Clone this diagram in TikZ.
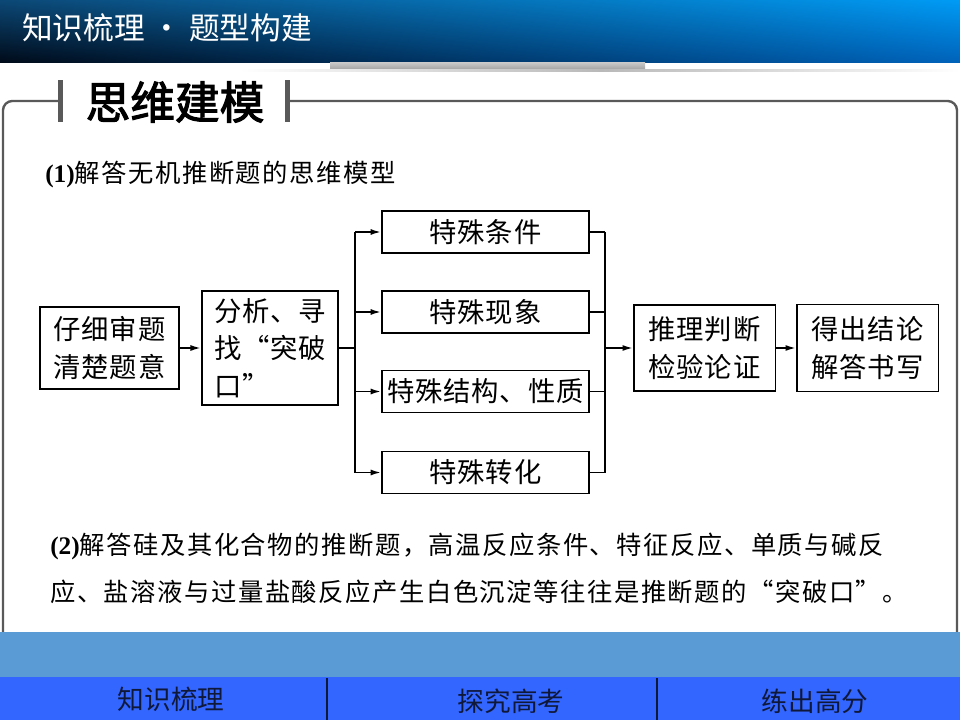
\documentclass[tikz,border=0pt]{standalone}
\usepackage{fontspec}
\setmainfont{Liberation Serif}
\newfontfamily\cjk{Noto Sans CJK SC}
\newfontfamily\cjkbox[LetterSpace=3]{Noto Sans CJK SC}
\newfontfamily\cjktext[LetterSpace=6]{Noto Sans CJK SC}
\newfontfamily\cjkhead[FakeBold=2.5]{Noto Sans CJK SC}
\definecolor{BandBlue}{RGB}{91,155,213}
\definecolor{TabBlue}{RGB}{51,102,255}
\definecolor{TabInk}{RGB}{16,24,58}
\definecolor{FrameGray}{RGB}{89,89,89}
\definecolor{BannerUL}{RGB}{12,72,118}
\definecolor{BannerUR}{RGB}{0,155,245}
\definecolor{BannerLL}{RGB}{0,10,24}
\definecolor{BannerLR}{RGB}{0,98,185}
\usetikzlibrary{positioning,arrows.meta,calc,shadings}

\begin{document}
\begin{tikzpicture}[x=0.75pt, y=-0.75pt,
      every node/.style={inner sep=0pt, align=center},
      stepbox/.style={draw=black, line width=1.3pt, fill=white,
                      font=\fontsize{20.5}{28}\cjkbox},
      featbox/.style={stepbox, minimum width=155pt, minimum height=31.5pt},
      link/.style={line width=1.4pt},
      arr/.style={link, -{Latex[length=8pt,width=4.5pt]}},
      tab/.style={font=\fontsize{20}{22}\cjk, text=TabInk}
  ]
    \useasboundingbox (0,0) rectangle (960,720);
    % banner
    \shade[upper left=BannerUL, upper right=BannerUR, lower left=BannerLL, lower right=BannerLR]
      (0,0) rectangle (960,63);
    \node[anchor=west, text=white, font=\fontsize{23}{25}\cjk] (banner) at (22,28) {知识梳理 · 题型构建};
    \shade[top color=gray!45, bottom color=gray!75] (330,63) rectangle (645,70);
    \shade[left color=white, right color=white, middle color=gray!55] (240,70) rectangle (960,71.5);

    % frame and heading
    \draw[FrameGray, line width=1.8pt, rounded corners=7pt] (58,101) -- (3,101) -- (3,640);
    \draw[FrameGray, line width=1.8pt, rounded corners=7pt] (290,101) -- (957,101) -- (957,640);
    \fill[FrameGray] (58,80) rectangle (63,122);
    \fill[FrameGray] (285,80) rectangle (290,122);
    \node[font=\fontsize{33.5}{36}\cjkhead] (head) at (175,102) {思维建模};

    \node[anchor=west, font=\fontsize{19}{22}\cjktext] (q1) at (45,175)
      {{\bfseries\fontspec{Liberation Serif}(1)}解答无机推断题的思维模型};

    % flow
    \node[stepbox, minimum width=104pt, minimum height=62pt] (read) at (109.5,348) {仔细审题\\清楚题意};
    \node[stepbox, minimum width=102pt, minimum height=86pt, align=left] (seek) at (270,348) {分析、寻\\找“突破\\口”};
    \node[featbox] (c1) at (485.5,232) {特殊条件};
    \node[featbox] (c2) at (485.5,312) {特殊现象};
    \node[featbox] (c3) at (485.5,391.5) {特殊结构、性质};
    \node[featbox] (c4) at (485.5,472.5) {特殊转化};
    \node[stepbox, line width=1pt, minimum width=106pt, minimum height=64.5pt] (infer) at (704.5,348) {推理判断\\检验论证};
    \node[stepbox, line width=1pt, minimum width=106pt, minimum height=65pt] (concl) at (867.5,348) {得出结论\\解答书写};
    \coordinate (split) at (355,348);
    \coordinate (merge) at (605,348);

    \draw[arr] (read) -- (seek);
    \draw[link] (seek) -- (split);
    \draw[link] (split |- c1) -- (split |- c4);
    \foreach \i in {1,...,4} {
      \draw[arr] (split |- c\i) -- (c\i);
      \draw[link] (c\i) -- (merge |- c\i);
    }
    \draw[link] (merge |- c1) -- (merge |- c4);
    \draw[arr] (merge) -- (infer);
    \draw[arr] (infer) -- (concl);

    \node[anchor=west, align=left, font=\fontsize{19}{35.5}\cjktext] (q2) at (50,568.5)
      {{\bfseries\fontspec{Liberation Serif}(2)}解答硅及其化合物的推断题，高温反应条件、特征反应、单质与碱反\\
       应、盐溶液与过量盐酸反应产生白色沉淀等往往是推断题的“突破口”。};

    % footer
    \fill[BandBlue] (0,632) rectangle (960,677);
    \fill[TabBlue] (0,677) rectangle (960,720);
    \draw[TabInk, line width=0.8pt] (327,678) -- (327,720);
    \draw[TabInk, line width=0.8pt] (657,678) -- (657,720);
    \node[tab] (t1) at (171,699) {知识梳理};
    \node[tab] (t2) at (511,701) {探究高考};
    \node[tab] (t3) at (815,701) {练出高分};
  \end{tikzpicture}
\end{document}
